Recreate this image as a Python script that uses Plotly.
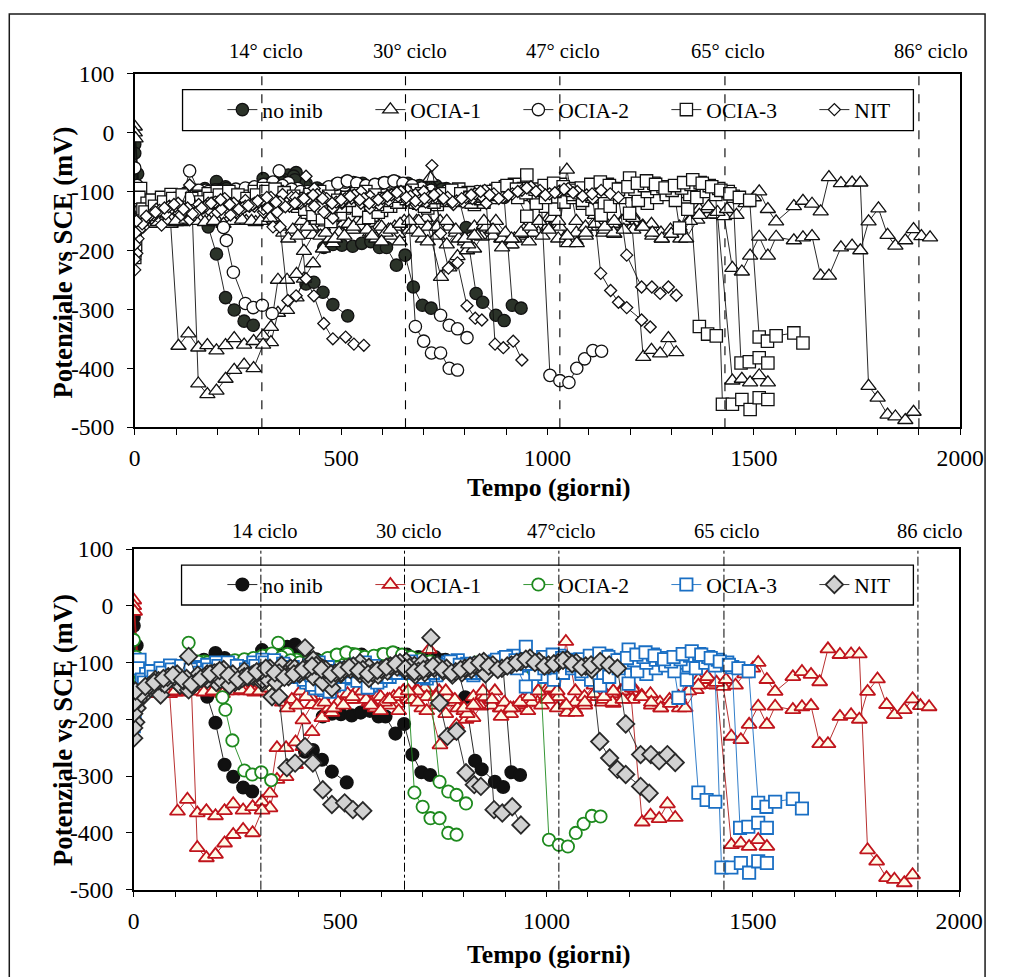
import plotly.graph_objects as go

W, H = 1011, 977

# ---------------- data (days, mV) per specimen ----------------
SERIES_NAMES = ["no inib", "OCIA-1", "OCIA-2", "OCIA-3", "NIT"]
CYCLE_DAYS = [308, 656, 1030, 1430, 1900]
CYCLE_LABEL_DAYS = [318, 668, 1037, 1437, 1929]
CYCLE_LABELS_TOP = ["14° ciclo", "30° ciclo", "47° ciclo", "65° ciclo", "86° ciclo"]
CYCLE_LABELS_BOT = ["14 ciclo", "30 ciclo", "47°ciclo", "65 ciclo", "86 ciclo"]
X_TICKS = [0, 500, 1000, 1500, 2000]
Y_TICKS = [100, 0, -100, -200, -300, -400, -500]
Y_TICK_TEXT = ["100", "0", "-100", "-200", "-300", "-400", "-500"]

no_inib = [
    [(0,-20),(7,-70),(15,-125),(30,-140),(50,-128),(72,-118),(95,-112),(118,-105),(140,-100),(160,-110),
     (178,-160),(198,-206),(220,-280),(241,-301),(265,-320),(287,-327)],
    [(0,-35),(12,-150),(35,-132),(58,-122),(80,-115),(103,-108),(125,-102),(148,-98),(170,-95),(198,-83),
     (220,-92),(243,-100),(265,-104),(288,-98),(311,-78),(333,-88),(355,-82),(372,-72),(391,-68),
     (415,-257),(434,-254),(456,-271),(480,-292),(516,-311)],
    [(3,-120),(25,-138),(48,-128),(70,-120),(93,-114),(115,-110),(138,-106),(160,-102),(183,-100),(205,-97),
     (228,-103),(250,-99),(272,-96),(295,-100),(318,-94),(340,-86),(362,-80),(385,-74),(408,-88),(430,-102),
     (458,-195),(480,-190),(502,-191),(528,-193),(550,-188),(572,-185),(593,-195),(610,-195),(634,-225),
     (655,-208),(675,-262),(697,-293),(718,-298)],
    [(5,-130),(30,-135),(55,-125),(80,-118),(105,-110),(130,-106),(155,-104),(180,-100),(205,-98),(230,-102),
     (255,-100),(280,-97),(305,-95),(330,-90),(355,-88),(380,-85),(405,-92),(430,-98),(455,-100),(480,-95),
     (505,-90),(530,-88),(555,-92),(580,-90),(605,-88),(630,-85),(655,-88),(680,-92),(705,-95),(730,-90),
     (755,-95),(780,-98),(803,-161),(827,-273),(843,-288),(875,-310),(895,-319)],
    [(8,-125),(35,-130),(60,-122),(88,-115),(115,-108),(140,-104),(168,-100),(195,-97),(222,-95),(250,-98),
     (278,-96),(305,-92),(333,-88),(360,-84),(388,-80),(415,-86),(442,-94),(470,-98),(497,-92),(525,-88),
     (552,-86),(580,-90),(607,-87),(635,-84),(662,-86),(690,-90),(717,-93),(745,-96),(772,-100),(800,-104),
     (827,-108),(855,-112),(880,-108),(895,-110),(915,-293),(936,-298)],
]

ocia1 = [
    [(0,-140),(10,-150),(25,-148),(45,-152),(65,-150),(87,-155),(106,-362),(130,-341),(154,-365),(176,-361),
     (198,-370),(220,-361),(241,-349),(265,-360),(288,-354),(311,-345),(330,-356),(347,-306),(369,-301),
     (392,-280),(410,-248),(432,-222),(456,-197),(480,-188),(502,-172),(525,-165),(548,-160),(570,-170),
     (592,-158),(615,-165),(638,-172),(660,-160),(683,-150),(705,-145),(742,-245),(762,-229),(782,-210),
     (805,-200),(822,-197),(841,-177),(865,-165),(888,-180),(910,-190),(932,-175),(955,-185),(978,-170),
     (1000,-160),(1022,-150),(1045,-175),(1068,-183),(1090,-165),(1112,-160),(1135,-170),(1158,-155),
     (1180,-150),(1205,-160),(1232,-381),(1252,-369),(1273,-375),(1293,-349),(1312,-373)],
    [(0,10),(8,-100),(20,-150),(40,-145),(60,-150),(80,-148),(100,-152),(120,-150),(140,-150),(154,-426),
     (176,-444),(198,-438),(220,-418),(241,-403),(265,-394),(288,-400),(311,-360),(330,-330),(347,-250),
     (369,-250),(392,-240),(410,-201),(432,-174),(456,-160),(480,-150),(505,-155),(528,-165),(550,-150),
     (575,-170),(598,-160),(620,-175),(642,-185),(665,-165),(688,-150),(710,-160),(733,-175),(756,-190),
     (778,-170),(800,-185),(823,-160),(846,-157),(868,-175),(890,-180),(913,-190),(936,-172),(958,-165),
     (980,-150),(1003,-145),(1026,-180),(1050,-188),(1070,-170),(1093,-175),(1116,-160),(1139,-165),
     (1162,-172),(1185,-150),(1208,-165),(1231,-158),(1254,-175),(1277,-180),(1300,-170),(1322,-180),
     (1345,-148),(1368,-130),(1390,-139),(1412,-140),(1448,-421),(1471,-418),(1491,-424),(1513,-412),(1534,-424)],
    [(0,0),(10,-120),(25,-150),(45,-155),(68,-150),(90,-148),(112,-152),(135,-150),(158,-148),(180,-150),
     (203,-152),(225,-150),(248,-148),(270,-150),(293,-152),(315,-150),(338,-148),(360,-170),(383,-165),
     (405,-150),(428,-160),(450,-175),(473,-180),(495,-170),(518,-155),(540,-150),(563,-165),(585,-180),
     (608,-170),(630,-160),(653,-150),(675,-165),(698,-180),(716,-77),(740,-150),(760,-160),(785,-180),
     (808,-190),(830,-175),(852,-160),(875,-150),(898,-170),(920,-180),(943,-165),(965,-170),(988,-175),
     (1011,-145),(1030,-160),(1047,-63),(1070,-150),(1092,-160),(1115,-140),(1138,-150),(1160,-170),
     (1183,-150),(1206,-140),(1229,-160),(1252,-155),(1275,-170),(1298,-165),(1320,-160),(1336,-180),
     (1363,-148),(1388,-130),(1404,-139),(1428,-142),(1448,-230),(1471,-236),(1491,-209),(1513,-177),
     (1534,-209),(1554,-177),(1597,-183),(1619,-178),(1641,-176),(1662,-243),(1682,-243),(1711,-195),
     (1738,-192),(1758,-200),(1778,-151),(1802,-129),(1824,-174),(1843,-192),(1867,-183),(1887,-164),
     (1906,-176),(1927,-178)],
    [(2,-10),(15,-140),(35,-148),(55,-152),(78,-150),(100,-150),(125,-148),(148,-150),(170,-152),(192,-150),
     (215,-155),(238,-150),(260,-148),(283,-150),(305,-150),(328,-145),(350,-160),(372,-180),(395,-175),
     (418,-160),(440,-150),(463,-170),(485,-180),(508,-175),(530,-160),(553,-150),(575,-175),(598,-185),
     (620,-165),(643,-155),(665,-150),(688,-170),(710,-185),(733,-160),(756,-150),(778,-165),(800,-180),
     (823,-175),(846,-150),(868,-165),(890,-195),(913,-180),(936,-170),(958,-160),(980,-150),(1003,-165),
     (1026,-150),(1048,-175),(1071,-188),(1093,-170),(1116,-155),(1139,-160),(1162,-150),(1185,-165),
     (1208,-145),(1231,-160),(1254,-170),(1277,-180),(1300,-172),(1322,-165),(1345,-150),(1368,-140),
     (1390,-125),(1412,-135),(1435,-130),(1458,-140),(1480,-120),(1500,-110),(1513,-100),(1534,-130),
     (1554,-151),(1597,-125),(1619,-116),(1641,-121),(1662,-134),(1682,-76),(1711,-86),(1738,-85),
     (1758,-85),(1778,-430),(1800,-450),(1824,-479),(1843,-482),(1867,-488),(1887,-474)],
]

ocia2 = [
    [(0,-60),(6,-90),(15,-130),(30,-125),(50,-118),(72,-112),(95,-108),(118,-105),(133,-65),(155,-100),
     (178,-108),(200,-130),(215,-161),(222,-183),(239,-237),(268,-290),(287,-297),(309,-293),(333,-307)],
    [(2,-100),(12,-145),(30,-132),(52,-122),(75,-115),(98,-110),(120,-106),(143,-102),(165,-100),(188,-105),
     (210,-108),(233,-104),(255,-100),(278,-98),(300,-95),(322,-88),(350,-65),(372,-85),(395,-95),(418,-100),
     (440,-105),(462,-102),(485,-98),(508,-90),(530,-85),(553,-90),(575,-95),(598,-92),(620,-88),(642,-90),
     (660,-95),(680,-329),(700,-354),(719,-374),(741,-374),(762,-400),(782,-403)],
    [(4,-110),(18,-140),(38,-128),(60,-120),(82,-112),(105,-108),(128,-105),(150,-100),(172,-98),(195,-102),
     (218,-106),(240,-102),(262,-98),(285,-96),(308,-92),(330,-86),(352,-92),(375,-98),(398,-102),(420,-106),
     (442,-100),(465,-95),(488,-88),(510,-84),(533,-88),(555,-92),(578,-90),(600,-86),(622,-84),(645,-88),
     (668,-92),(690,-96),(712,-100),(741,-310),(762,-327),(782,-333),(805,-348)],
    [(6,-105),(22,-138),(42,-126),(64,-118),(86,-110),(110,-106),(132,-102),(155,-98),(178,-100),(200,-104),
     (222,-100),(245,-96),(268,-94),(290,-92),(312,-88),(335,-84),(358,-90),(380,-96),(402,-100),(425,-104),
     (448,-98),(470,-92),(492,-86),(515,-82),(538,-86),(560,-90),(582,-88),(605,-85),(628,-82),(650,-86),
     (672,-90),(695,-94),(718,-98),(740,-104),(762,-108),(785,-112),(808,-106),(830,-100),(852,-104),
     (875,-110),(898,-106),(920,-100),(942,-104),(965,-110),(985,-115),(1006,-412),(1030,-421),(1052,-424),
     (1071,-400),(1090,-384),(1110,-370),(1131,-371)],
]

ocia3 = [
    [(0,-200),(14,-95),(35,-115),(58,-120),(80,-125),(103,-118),(125,-112),(148,-108),(170,-115),(193,-120),
     (215,-112),(238,-105),(260,-110),(283,-118),(305,-112),(328,-100),(350,-108),(372,-115),(395,-125),
     (418,-135),(440,-145),(462,-148),(485,-140),(508,-128),(530,-120),(553,-130),(575,-140),(598,-132),
     (620,-125),(643,-118),(665,-112),(688,-120),(710,-128),(733,-122),(756,-115),(778,-108),(800,-115),
     (823,-122),(846,-118),(868,-110),(890,-100),(913,-95),(936,-105),(950,-72),(972,-110),(995,-125),
     (1018,-130),(1040,-118),(1062,-110),(1085,-120),(1108,-130),(1130,-140),(1152,-125),(1175,-110),
     (1199,-77),(1220,-105),(1242,-120),(1265,-110),(1288,-100),(1310,-95),(1332,-100),(1345,-105),
     (1368,-329),(1388,-342),(1409,-345)],
    [(0,-212),(10,-110),(30,-120),(52,-125),(75,-118),(98,-112),(120,-108),(142,-115),(165,-122),(188,-118),
     (210,-110),(232,-105),(255,-112),(278,-118),(300,-110),(322,-102),(345,-100),(368,-110),(390,-120),
     (412,-130),(432,-139),(455,-145),(475,-151),(498,-138),(520,-125),(542,-132),(567,-144),(590,-135),
     (612,-125),(635,-118),(658,-112),(680,-118),(702,-125),(725,-118),(748,-110),(770,-104),(792,-112),
     (815,-118),(838,-112),(860,-105),(882,-98),(905,-102),(928,-110),(950,-142),(973,-120),(995,-110),
     (1018,-100),(1040,-95),(1062,-105),(1085,-115),(1108,-108),(1130,-100),(1152,-95),(1175,-100),
     (1199,-137),(1220,-115),(1242,-100),(1265,-95),(1288,-105),(1310,-115),(1320,-162),(1340,-130),
     (1362,-110),(1385,-100),(1408,-105),(1424,-461),(1448,-461),(1471,-453),(1491,-470),(1513,-450),(1534,-453)],
    [(2,-190),(20,-130),(42,-115),(65,-110),(88,-105),(110,-112),(132,-118),(155,-110),(178,-104),(200,-100),
     (222,-108),(245,-115),(268,-108),(290,-100),(312,-95),(335,-102),(358,-110),(380,-118),(402,-112),
     (425,-105),(448,-100),(470,-108),(492,-115),(515,-110),(538,-104),(560,-100),(582,-106),(605,-112),
     (628,-108),(650,-102),(672,-98),(695,-104),(718,-110),(740,-106),(762,-100),(785,-96),(808,-102),
     (830,-108),(852,-104),(875,-98),(898,-92),(920,-88),(942,-95),(965,-102),(988,-98),(1010,-92),
     (1032,-88),(1055,-95),(1078,-102),(1100,-98),(1122,-92),(1145,-88),(1168,-95),(1190,-100),(1212,-96),
     (1235,-90),(1258,-86),(1280,-92),(1302,-98),(1325,-94),(1348,-88),(1370,-85),(1392,-90),(1415,-95),
     (1438,-100),(1450,-108),(1469,-391),(1489,-389),(1513,-382),(1534,-391)],
    [(4,-150),(25,-135),(48,-125),(70,-118),(92,-112),(115,-106),(138,-112),(160,-118),(182,-112),(205,-106),
     (228,-100),(250,-106),(272,-112),(295,-106),(318,-100),(340,-96),(362,-102),(385,-108),(408,-115),
     (430,-122),(452,-128),(475,-135),(498,-125),(520,-115),(542,-108),(565,-115),(588,-122),(610,-115),
     (632,-108),(655,-102),(678,-108),(700,-115),(722,-110),(745,-104),(768,-98),(790,-104),(812,-110),
     (835,-106),(858,-100),(880,-95),(902,-90),(925,-96),(948,-102),(970,-96),(992,-90),(1015,-86),
     (1038,-92),(1060,-98),(1082,-94),(1105,-88),(1128,-84),(1150,-90),(1172,-96),(1195,-92),(1218,-86),
     (1240,-82),(1262,-88),(1285,-94),(1308,-90),(1330,-85),(1352,-80),(1375,-86),(1398,-92),(1420,-98),
     (1442,-104),(1465,-110),(1490,-115),(1513,-347),(1533,-354),(1554,-345),(1597,-340),(1619,-357)],
]

nit = [
    [(0,-233),(5,-205),(21,-160),(41,-145),(65,-157),(84,-125),(105,-135),(133,-89),(155,-130),(178,-120),
     (200,-135),(222,-125),(245,-130),(268,-115),(290,-125),(312,-135),(335,-160),(352,-160),(371,-285),
     (391,-277),(415,-248),(434,-277),(458,-324),(480,-350),(511,-347),(531,-359),(555,-361)],
    [(0,-215),(8,-180),(25,-150),(45,-140),(68,-135),(90,-128),(112,-140),(133,-148),(155,-122),(178,-130),
     (200,-118),(222,-128),(245,-135),(268,-125),(290,-120),(312,-130),(335,-115),(358,-105),(380,-110),
     (402,-120),(415,-74),(435,-95),(458,-110),(480,-145),(502,-120),(525,-110),(548,-100),(570,-108),
     (592,-115),(615,-110),(638,-105),(660,-98),(680,-105),(700,-100),(720,-56),(741,-171),(760,-230),
     (782,-221),(805,-294),(825,-315),(841,-318)],
    [(0,-190),(12,-165),(30,-145),(52,-130),(75,-138),(98,-125),(120,-132),(143,-140),(165,-128),(188,-120),
     (210,-130),(232,-140),(255,-132),(278,-125),(300,-118),(322,-128),(345,-135),(368,-120),(390,-110),
     (412,-115),(435,-125),(458,-135),(480,-128),(502,-118),(525,-112),(548,-120),(570,-128),(592,-122),
     (615,-115),(638,-108),(660,-115),(682,-122),(705,-118),(728,-110),(750,-115),(772,-122),(795,-118),
     (818,-112),(840,-108),(852,-120),(873,-359),(893,-365),(917,-354),(938,-386)],
    [(2,-170),(18,-155),(38,-140),(60,-132),(82,-126),(105,-120),(128,-128),(150,-135),(172,-125),(195,-118),
     (218,-112),(240,-120),(262,-128),(285,-122),(308,-115),(330,-110),(352,-118),(375,-125),(398,-118),
     (420,-112),(442,-105),(465,-112),(488,-118),(510,-112),(532,-106),(555,-112),(578,-118),(600,-112),
     (622,-106),(645,-100),(668,-108),(690,-115),(712,-110),(735,-104),(758,-110),(780,-116),(802,-110),
     (825,-104),(848,-98),(870,-104),(892,-110),(915,-104),(938,-98),(960,-92),(982,-98),(1005,-104),
     (1028,-100),(1050,-95),(1072,-100),(1095,-106),(1110,-112),(1129,-239),(1153,-268),(1172,-288),
     (1192,-297),(1228,-318),(1249,-330)],
    [(4,-150),(28,-142),(50,-135),(72,-128),(95,-122),(118,-130),(140,-138),(162,-128),(185,-120),(208,-114),
     (230,-122),(252,-130),(275,-124),(298,-116),(320,-110),(342,-118),(365,-126),(388,-120),(410,-112),
     (432,-106),(455,-112),(478,-120),(500,-114),(522,-108),(545,-114),(568,-120),(590,-114),(612,-108),
     (635,-102),(658,-110),(680,-116),(702,-112),(725,-106),(748,-112),(770,-118),(792,-112),(815,-106),
     (838,-100),(860,-106),(882,-112),(905,-106),(928,-100),(950,-94),(972,-100),(995,-106),(1018,-102),
     (1040,-96),(1062,-102),(1085,-108),(1108,-104),(1130,-98),(1152,-104),(1172,-110),(1192,-208),
     (1228,-262),(1253,-262),(1273,-273),(1293,-262),(1312,-276)],
]

ALL_SERIES = [no_inib, ocia1, ocia2, ocia3, nit]

# ---------------- layout helpers (target pixel -> paper fraction) ----------------
SC = 0.9745          # observed page->picture scale of the viewer
OX, OY = 4.7, 12.3   # observed page->picture offset
K = 1 / SC


def fx(X):
    return ((X - OX) / SC) / W


def fy(Y):
    return 1 - ((Y - OY) / SC) / H


# ---------------- styling ----------------
FONT = "Liberation Serif, Times New Roman, serif"
symbols = ["circle", "triangle-up", "circle", "square", "diamond"]
sizes_top = [12, 13, 12, 12, 9]
sizes_bot = [12, 13, 12, 12, 13]
top_fill = ["#2b3329", "white", "white", "white", "white"]
top_edge = ["#111", "#111", "#111", "#111", "#111"]
bot_fill = ["#111111", "#fffbe8", "white", "white", "#d2d2d2"]
bot_edge = ["#111111", "#c0141c", "#1e8a1e", "#1a6fc4", "#2a2a2a"]
bot_line = ["#111111", "#b01818", "#1e8a1e", "#1a6fc4", "#222222"]


def flatten(specs):
    xs, ys = [], []
    for s in specs:
        for d, v in s:
            xs.append(d)
            ys.append(v)
        xs.append(None)
        ys.append(None)
    return xs, ys


fig = go.Figure()
for i, (name, specs) in enumerate(zip(SERIES_NAMES, ALL_SERIES)):
    xs, ys = flatten(specs)
    fig.add_trace(go.Scatter(
        x=xs, y=ys, mode="lines+markers", name=name, xaxis="x", yaxis="y",
        legend="legend", connectgaps=False,
        line=dict(color="#111", width=0.9),
        marker=dict(symbol=symbols[i], size=sizes_top[i] * K, color=top_fill[i],
                    line=dict(color=top_edge[i], width=1.3)),
    ))
for i, (name, specs) in enumerate(zip(SERIES_NAMES, ALL_SERIES)):
    xs, ys = flatten(specs)
    fig.add_trace(go.Scatter(
        x=xs, y=ys, mode="lines+markers", name=name, xaxis="x2", yaxis="y2",
        legend="legend2", connectgaps=False,
        line=dict(color=bot_line[i], width=0.9),
        marker=dict(symbol=symbols[i], size=sizes_bot[i] * K, color=bot_fill[i],
                    line=dict(color=bot_edge[i], width=1.8)),
    ))

axis_common = dict(
    showline=True, mirror=True, linecolor="black", linewidth=1.6,
    showgrid=False, zeroline=False, ticks="outside", tickcolor="black", ticklen=6,
    tickfont=dict(family=FONT, size=23 * K, color="black"),
)
xaxis_common = dict(range=[0, 2000], tickvals=X_TICKS, ticklabelstandoff=3,
                    minor=dict(dtick=100, ticklen=6, ticks="outside", tickcolor="black"),
                    **axis_common)
yaxis_common = dict(range=[-500, 100], tickvals=Y_TICKS, ticktext=Y_TICK_TEXT,
                    ticklabelstandoff=8, **axis_common)

legend_common = dict(orientation="h", xanchor="left", yanchor="middle",
                     bgcolor="rgba(0,0,0,0)", borderwidth=0, entrywidth=103,
                     font=dict(family=FONT, size=21 * K, color="black"), itemwidth=30)

fig.update_layout(
    width=W, height=H, margin=dict(l=0, r=0, t=0, b=0),
    paper_bgcolor="white", plot_bgcolor="white",
    font=dict(family=FONT, color="black"),
    xaxis=dict(domain=[fx(134), fx(963)], anchor="y", **xaxis_common),
    yaxis=dict(domain=[fy(427), fy(73)], anchor="x", **yaxis_common),
    xaxis2=dict(domain=[fx(133), fx(962)], anchor="y2", **xaxis_common),
    yaxis2=dict(domain=[fy(890), fy(549)], anchor="x2", **yaxis_common),
    legend=dict(x=fx(222), y=fy(109.5), **legend_common),
    legend2=dict(x=fx(222), y=fy(585), **legend_common),
)

shapes = []
# legend boxes
shapes.append(dict(type="rect", xref="paper", yref="paper", x0=fx(182), x1=fx(916),
                   y0=fy(130), y1=fy(89), line=dict(color="black", width=1.3),
                   fillcolor="white", layer="below"))
shapes.append(dict(type="rect", xref="paper", yref="paper", x0=fx(181), x1=fx(916),
                   y0=fy(605), y1=fy(565), line=dict(color="black", width=1.3),
                   fillcolor="white", layer="below"))
# outer frame (clamped to the drawable page)
shapes.append(dict(type="rect", xref="paper", yref="paper", x0=fx(8), x1=min(fx(1003), 1009 / W),
                   y0=-0.02, y1=min(fy(10), 1 - 1 / H), line=dict(color="#1a1a1a", width=1.5)))
for d in CYCLE_DAYS:
    shapes.append(dict(type="line", xref="x", yref="y domain", x0=d, x1=d, y0=0, y1=1,
                       line=dict(color="black", width=1.1, dash="dash")))
    shapes.append(dict(type="line", xref="x2", yref="y2 domain", x0=d, x1=d, y0=0, y1=1,
                       line=dict(color="black", width=1.0, dash="dashdot")))

annotations = []
for d, lt, lb in zip(CYCLE_LABEL_DAYS, CYCLE_LABELS_TOP, CYCLE_LABELS_BOT):
    annotations.append(dict(xref="x", yref="paper", x=d, y=fy(50), text=lt, showarrow=False,
                            xanchor="center", yanchor="middle",
                            font=dict(family=FONT, size=20 * K, color="black")))
    annotations.append(dict(xref="x2", yref="paper", x=d, y=fy(531), text=lb, showarrow=False,
                            xanchor="center", yanchor="middle",
                            font=dict(family=FONT, size=20 * K, color="black")))
for yc in [fy(262), fy(730)]:
    annotations.append(dict(xref="paper", yref="paper", x=fx(62), y=yc, text="<b>Potenziale vs SCE (mV)</b>",
                            textangle=-90, showarrow=False, xanchor="center", yanchor="middle",
                            font=dict(family=FONT, size=26 * K, color="black")))
for yc in [fy(487), fy(955)]:
    annotations.append(dict(xref="paper", yref="paper", x=fx(550), y=yc, text="<b>Tempo (giorni)</b>",
                            showarrow=False, xanchor="center", yanchor="middle",
                            font=dict(family=FONT, size=25 * K, color="black")))

fig.update_layout(shapes=shapes, annotations=annotations)
fig.write_html(
    "out.html",
    config={"displayModeBar": False},
    post_script=(
        "document.documentElement.style.margin='0';document.body.style.margin='0';"
        "document.body.style.padding='0';document.body.style.overflow='hidden';"
        "document.documentElement.style.overflow='hidden';"
        "var gd=document.getElementById('{plot_id}');gd.style.position='fixed';"
        "gd.style.left='0px';gd.style.top='0px';"
    ),
)
